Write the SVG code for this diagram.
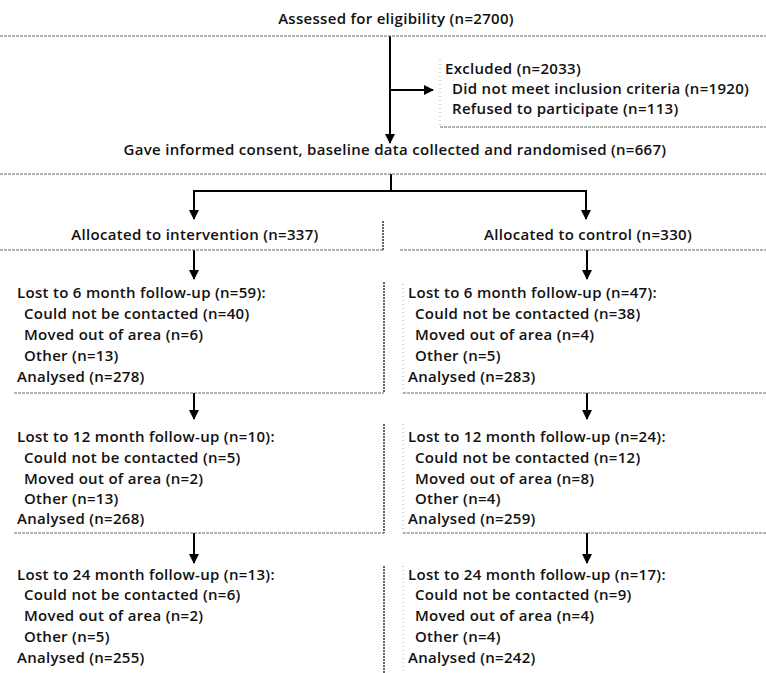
<svg xmlns="http://www.w3.org/2000/svg" width="766" height="673" viewBox="0 0 766 673">
<defs>
<style>
text{font-family:"Open Sans","Liberation Sans",sans-serif;font-size:15px;letter-spacing:0.3px;fill:#111;font-weight:600}
.c{text-anchor:middle}
.bb{stroke:#666;stroke-width:1;stroke-dasharray:3 1;fill:none}
.re{stroke:#333;stroke-width:1.5;stroke-dasharray:2 1;fill:none}
.le{stroke:#aaa;stroke-width:1;stroke-dasharray:1 3;fill:none}
.ln{stroke:#000;stroke-width:2;fill:none}
.ar{stroke:#000;stroke-width:2;fill:none;marker-end:url(#ah)}
</style>
<marker id="ah" viewBox="0 0 10 10" refX="9" refY="5" markerWidth="5" markerHeight="5" orient="auto" markerUnits="strokeWidth">
<path d="M0,0 L10,5 L0,10 z" fill="#000"/>
</marker>
</defs>
<rect width="766" height="673" fill="#fff"/>

<g id="connectors">
<line class="ln" x1="390" y1="36" x2="390" y2="90"/>
<line class="ar" x1="390" y1="90" x2="433" y2="90"/>
<line class="ar" x1="390" y1="90" x2="390" y2="143"/>
<line class="ln" x1="391" y1="174" x2="391" y2="191"/>
<line class="ln" x1="193" y1="191" x2="587" y2="191"/>
<line class="ar" x1="194" y1="191" x2="194" y2="219"/>
<line class="ar" x1="586" y1="191" x2="586" y2="219"/>
<line class="ar" x1="194" y1="250" x2="194" y2="279"/>
<line class="ar" x1="587" y1="250" x2="587" y2="279"/>
<line class="ar" x1="194" y1="393" x2="194" y2="419"/>
<line class="ar" x1="587" y1="393" x2="587" y2="419"/>
<line class="ar" x1="194" y1="533" x2="194" y2="563"/>
<line class="ar" x1="587" y1="533" x2="587" y2="563"/>
</g>

<g id="assessed">
<text class="c" x="396" y="24">Assessed for eligibility (n=2700)</text>
<line class="bb" x1="0" y1="36" x2="766" y2="36"/>
</g>

<g id="excluded">
<text x="445" y="74">Excluded (n=2033)</text>
<text x="452" y="94">Did not meet inclusion criteria (n=1920)</text>
<text x="452" y="114">Refused to participate (n=113)</text>
<line class="le" x1="440" y1="60" x2="440" y2="127"/>
<line class="bb" x1="440" y1="127" x2="766" y2="127"/>
</g>

<g id="randomised">
<text class="c" x="395" y="155">Gave informed consent, baseline data collected and randomised (n=667)</text>
<line class="bb" x1="0" y1="174" x2="766" y2="174"/>
</g>

<g id="alloc-intervention">
<text class="c" x="195" y="240">Allocated to intervention (n=337)</text>
<line class="bb" x1="0" y1="250" x2="383" y2="250"/>
<line class="re" x1="383" y1="221" x2="383" y2="250"/>
</g>

<g id="alloc-control">
<text class="c" x="588" y="240">Allocated to control (n=330)</text>
<line class="bb" x1="400" y1="250" x2="766" y2="250"/>
</g>

<g id="int-6">
<text x="17" y="298">Lost to 6 month follow-up (n=59):</text>
<text x="24" y="319">Could not be contacted (n=40)</text>
<text x="24" y="340">Moved out of area (n=6)</text>
<text x="24" y="361">Other (n=13)</text>
<text x="17" y="382">Analysed (n=278)</text>
<line class="bb" x1="14" y1="393" x2="384" y2="393"/>
<line class="re" x1="384" y1="282" x2="384" y2="393"/>
</g>

<g id="ctl-6">
<text x="408" y="298">Lost to 6 month follow-up (n=47):</text>
<text x="415" y="319">Could not be contacted (n=38)</text>
<text x="415" y="340">Moved out of area (n=4)</text>
<text x="415" y="361">Other (n=5)</text>
<text x="408" y="382">Analysed (n=283)</text>
<line class="bb" x1="403" y1="393" x2="766" y2="393"/>
<line class="le" x1="403" y1="284" x2="403" y2="393"/>
</g>

<g id="int-12">
<text x="17" y="442">Lost to 12 month follow-up (n=10):</text>
<text x="24" y="463">Could not be contacted (n=5)</text>
<text x="24" y="484">Moved out of area (n=2)</text>
<text x="24" y="504">Other (n=13)</text>
<text x="17" y="524">Analysed (n=268)</text>
<line class="bb" x1="14" y1="533" x2="384" y2="533"/>
<line class="re" x1="384" y1="424" x2="384" y2="533"/>
</g>

<g id="ctl-12">
<text x="408" y="442">Lost to 12 month follow-up (n=24):</text>
<text x="415" y="463">Could not be contacted (n=12)</text>
<text x="415" y="484">Moved out of area (n=8)</text>
<text x="415" y="504">Other (n=4)</text>
<text x="408" y="524">Analysed (n=259)</text>
<line class="bb" x1="403" y1="533" x2="766" y2="533"/>
<line class="le" x1="403" y1="424" x2="403" y2="533"/>
</g>

<g id="int-24">
<text x="17" y="580">Lost to 24 month follow-up (n=13):</text>
<text x="24" y="600">Could not be contacted (n=6)</text>
<text x="24" y="621">Moved out of area (n=2)</text>
<text x="24" y="642">Other (n=5)</text>
<text x="17" y="663">Analysed (n=255)</text>
<line class="re" x1="384" y1="566" x2="384" y2="673"/>
</g>

<g id="ctl-24">
<text x="408" y="580">Lost to 24 month follow-up (n=17):</text>
<text x="415" y="600">Could not be contacted (n=9)</text>
<text x="415" y="621">Moved out of area (n=4)</text>
<text x="415" y="642">Other (n=4)</text>
<text x="408" y="663">Analysed (n=242)</text>
<line class="le" x1="403" y1="566" x2="403" y2="673"/>
</g>
</svg>
